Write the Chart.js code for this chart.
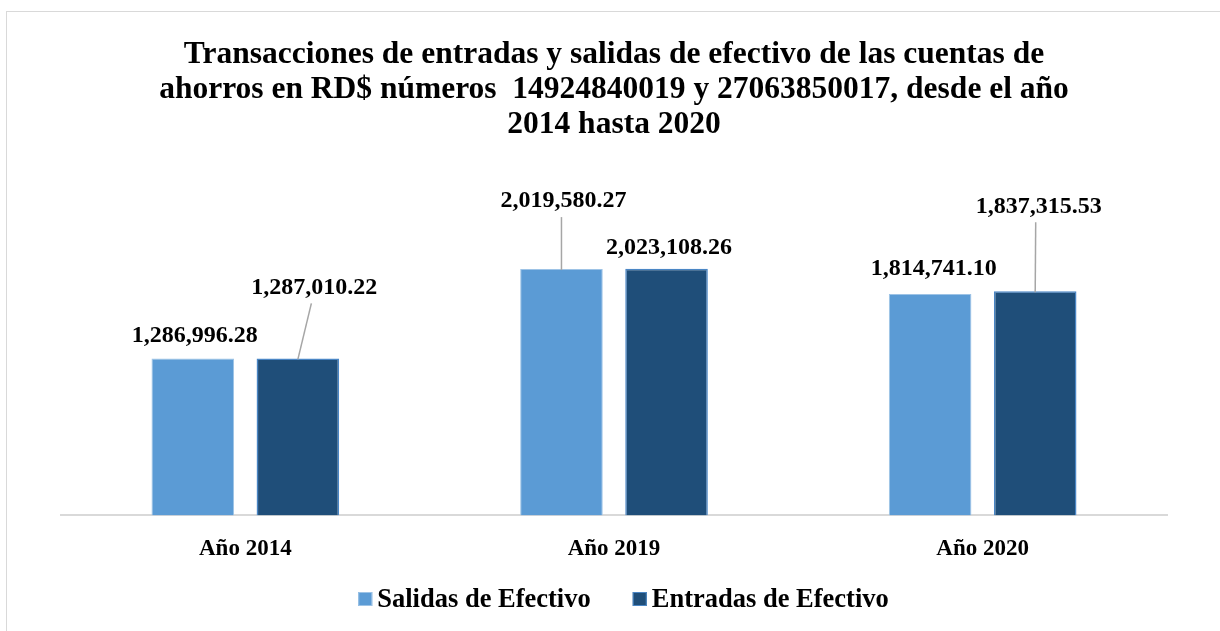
<!DOCTYPE html>
<html>
<head>
<meta charset="utf-8">
<script src="https://cdn.jsdelivr.net/npm/chart.js@4"></script>
<style>
html,body{margin:0;padding:0;background:#fff;overflow:hidden;}
#wrap{position:absolute;left:0;top:0;width:1220px;height:631px;}
#frame{position:absolute;left:6px;top:11px;width:1400px;height:800px;border:1px solid #d9d9d9;pointer-events:none;}
</style>
</head>
<body>
<div id="frame"></div>
<div id="wrap"><canvas id="c" width="1220" height="631"></canvas></div>
<script>
const categories = ['Año 2014', 'Año 2019', 'Año 2020'];
const seriesNames = ['Salidas de Efectivo', 'Entradas de Efectivo'];
const salidas = [1286996.28, 2019580.27, 1814741.10];
const entradas = [1287010.22, 2023108.26, 1837315.53];
const titleLines = [
  'Transacciones de entradas y salidas de efectivo de las cuentas de',
  'ahorros en RD$ números  14924840019 y 27063850017, desde el año',
  '2014 hasta 2020'
];

// label placement (pixels relative to bar center / bar top), layout only
const labelOffsets = [
  [[2, -23], [2, -68], [3.5, -25]],
  [[16.5, -71], [2.5, -21], [3.5, -85]]
];

const SERIF = "'Liberation Serif', 'Times New Roman', serif";

const fmt = v => v.toLocaleString('en-US', {minimumFractionDigits: 2, maximumFractionDigits: 2});

const dataLabels = {
  id: 'dataLabels',
  afterDatasetsDraw(chart) {
    const ctx = chart.ctx;
    ctx.save();
    chart.data.datasets.forEach((ds, di) => {
      const meta = chart.getDatasetMeta(di);
      meta.data.forEach((el, i) => {
        const off = labelOffsets[di][i];
        const lx = el.x + off[0];
        const ly = el.y + off[1];
        if (off[1] < -40) {
          ctx.strokeStyle = '#a6a6a6';
          ctx.lineWidth = 1.5;
          ctx.beginPath();
          ctx.moveTo(el.x + Math.max(0, off[0] - 3), ly + 16);
          ctx.lineTo(el.x, el.y + 1);
          ctx.stroke();
        }
        ctx.fillStyle = '#000';
        ctx.font = 'bold 24px ' + SERIF;
        ctx.textAlign = 'center';
        ctx.textBaseline = 'middle';
        ctx.fillText(fmt(ds.data[i]), lx, ly);
      });
    });
    ctx.restore();
  }
};

const customLegend = {
  id: 'customLegend',
  afterDraw(chart) {
    const ctx = chart.ctx;
    ctx.save();
    ctx.font = 'bold 26.5px ' + SERIF;
    ctx.textBaseline = 'middle';
    ctx.textAlign = 'left';
    const box = 14, gapBT = 5, gapItems = 42;
    const items = chart.data.datasets.map(ds => ({
      label: ds.label, color: ds.backgroundColor, border: ds.borderColor,
      w: box + gapBT + ctx.measureText(ds.label).width
    }));
    const total = items.reduce((s, it) => s + it.w, 0) + gapItems * (items.length - 1);
    let x = 623.5 - total / 2;
    const y = 599;
    items.forEach(it => {
      ctx.fillStyle = it.color;
      ctx.fillRect(x, y - box / 2, box, box);
      ctx.strokeStyle = it.border;
      ctx.lineWidth = 1;
      ctx.strokeRect(x + 0.5, y - box / 2 + 0.5, box - 1, box - 1);
      ctx.fillStyle = '#000';
      ctx.fillText(it.label, x + box + gapBT, y + 1);
      x += it.w + gapItems;
    });
    ctx.restore();
  }
};

new Chart(document.getElementById('c'), {
  type: 'bar',
  data: {
    labels: categories,
    datasets: [
      {label: seriesNames[0], data: salidas, backgroundColor: '#5B9BD5', borderColor: '#9DC3E6', borderWidth: 1,
       categoryPercentage: 0.57, barPercentage: 0.786},
      {label: seriesNames[1], data: entradas, backgroundColor: '#1F4E79', borderColor: '#4A86C5', borderWidth: 1.5,
       categoryPercentage: 0.57, barPercentage: 0.786}
    ]
  },
  options: {
    responsive: false,
    animation: false,
    layout: {padding: {left: 61, right: 53, top: 0, bottom: 56}},
    plugins: {
      legend: {display: false},
      tooltip: {enabled: false},
      title: {
        display: true,
        text: titleLines,
        color: '#000',
        font: {family: SERIF, size: 31.5, weight: 'bold', lineHeight: 35 / 31.5},
        padding: {top: 37, bottom: 7.5}
      }
    },
    scales: {
      x: {
        grid: {display: false},
        border: {display: true, color: '#d9d9d9', width: 2},
        ticks: {color: '#000', font: {family: SERIF, size: 23, weight: 'bold'}, padding: 12}
      },
      y: {
        display: false,
        min: 0,
        max: 3000000
      }
    }
  },
  plugins: [dataLabels, customLegend]
});
</script>
</body>
</html>
